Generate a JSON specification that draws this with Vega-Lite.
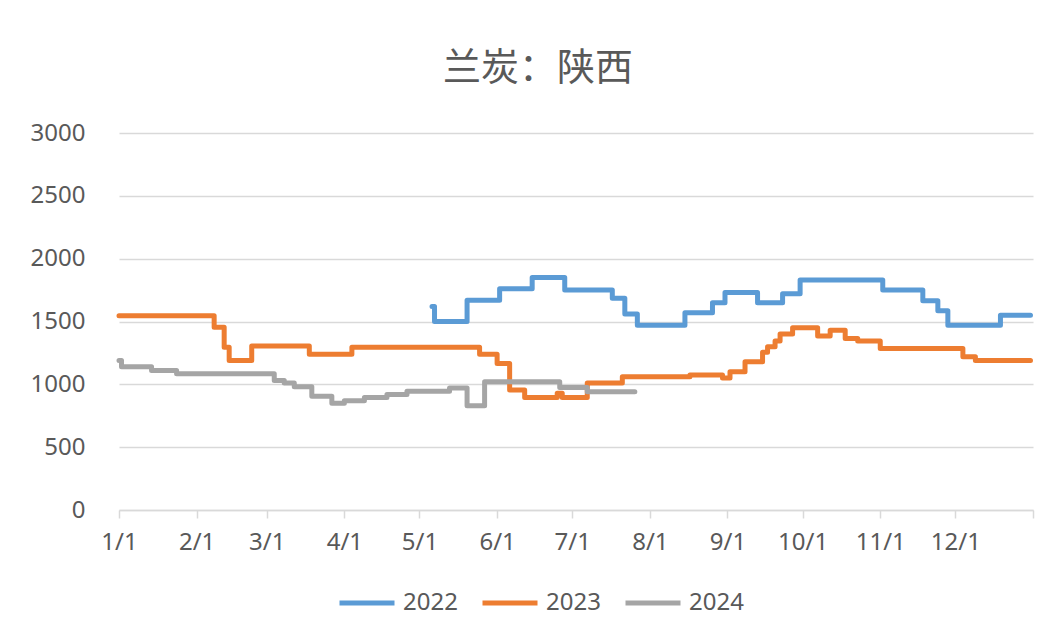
{
  "$schema": "https://vega.github.io/schema/vega-lite/v6.json",
  "width": 914,
  "height": 377,
  "autosize": {"type": "none"},
  "padding": {"left": 119, "top": 133, "right": 25, "bottom": 129},
  "background": "white",
  "title": {
    "text": "兰炭：陕西",
    "font": "Noto Sans CJK SC",
    "fontSize": 38,
    "fontWeight": "normal",
    "color": "#595959",
    "anchor": "middle",
    "frame": "group",
    "dx": -38,
    "offset": 33
  },
  "data": {
    "values": [
      {"series": "2022", "date": "2022-05-06", "value": 1620},
      {"series": "2022", "date": "2022-05-07", "value": 1500},
      {"series": "2022", "date": "2022-05-20", "value": 1670},
      {"series": "2022", "date": "2022-06-02", "value": 1760},
      {"series": "2022", "date": "2022-06-15", "value": 1850},
      {"series": "2022", "date": "2022-06-28", "value": 1750},
      {"series": "2022", "date": "2022-07-17", "value": 1685},
      {"series": "2022", "date": "2022-07-22", "value": 1560},
      {"series": "2022", "date": "2022-07-27", "value": 1470},
      {"series": "2022", "date": "2022-08-15", "value": 1570},
      {"series": "2022", "date": "2022-08-26", "value": 1650},
      {"series": "2022", "date": "2022-08-31", "value": 1730},
      {"series": "2022", "date": "2022-09-13", "value": 1650},
      {"series": "2022", "date": "2022-09-23", "value": 1720},
      {"series": "2022", "date": "2022-09-30", "value": 1830},
      {"series": "2022", "date": "2022-11-02", "value": 1750},
      {"series": "2022", "date": "2022-11-18", "value": 1665},
      {"series": "2022", "date": "2022-11-24", "value": 1585},
      {"series": "2022", "date": "2022-11-28", "value": 1470},
      {"series": "2022", "date": "2022-12-19", "value": 1550},
      {"series": "2022", "date": "2022-12-31", "value": 1550},

      {"series": "2023", "date": "2022-01-01", "value": 1545},
      {"series": "2023", "date": "2022-02-08", "value": 1455},
      {"series": "2023", "date": "2022-02-12", "value": 1295},
      {"series": "2023", "date": "2022-02-14", "value": 1190},
      {"series": "2023", "date": "2022-02-23", "value": 1305},
      {"series": "2023", "date": "2022-03-18", "value": 1240},
      {"series": "2023", "date": "2022-04-04", "value": 1295},
      {"series": "2023", "date": "2022-05-25", "value": 1240},
      {"series": "2023", "date": "2022-06-01", "value": 1165},
      {"series": "2023", "date": "2022-06-06", "value": 955},
      {"series": "2023", "date": "2022-06-12", "value": 895},
      {"series": "2023", "date": "2022-06-25", "value": 930},
      {"series": "2023", "date": "2022-06-27", "value": 895},
      {"series": "2023", "date": "2022-07-07", "value": 1010},
      {"series": "2023", "date": "2022-07-21", "value": 1060},
      {"series": "2023", "date": "2022-08-17", "value": 1075},
      {"series": "2023", "date": "2022-08-30", "value": 1050},
      {"series": "2023", "date": "2022-09-02", "value": 1100},
      {"series": "2023", "date": "2022-09-08", "value": 1180},
      {"series": "2023", "date": "2022-09-15", "value": 1255},
      {"series": "2023", "date": "2022-09-17", "value": 1300},
      {"series": "2023", "date": "2022-09-20", "value": 1345},
      {"series": "2023", "date": "2022-09-22", "value": 1400},
      {"series": "2023", "date": "2022-09-27", "value": 1450},
      {"series": "2023", "date": "2022-10-07", "value": 1385},
      {"series": "2023", "date": "2022-10-12", "value": 1430},
      {"series": "2023", "date": "2022-10-18", "value": 1365},
      {"series": "2023", "date": "2022-10-23", "value": 1345},
      {"series": "2023", "date": "2022-11-01", "value": 1285},
      {"series": "2023", "date": "2022-12-04", "value": 1220},
      {"series": "2023", "date": "2022-12-09", "value": 1190},
      {"series": "2023", "date": "2022-12-31", "value": 1190},

      {"series": "2024", "date": "2022-01-01", "value": 1190},
      {"series": "2024", "date": "2022-01-02", "value": 1140},
      {"series": "2024", "date": "2022-01-14", "value": 1110},
      {"series": "2024", "date": "2022-01-24", "value": 1085},
      {"series": "2024", "date": "2022-03-04", "value": 1030},
      {"series": "2024", "date": "2022-03-08", "value": 1010},
      {"series": "2024", "date": "2022-03-12", "value": 980},
      {"series": "2024", "date": "2022-03-19", "value": 905},
      {"series": "2024", "date": "2022-03-27", "value": 850},
      {"series": "2024", "date": "2022-04-01", "value": 870},
      {"series": "2024", "date": "2022-04-09", "value": 895},
      {"series": "2024", "date": "2022-04-18", "value": 920},
      {"series": "2024", "date": "2022-04-26", "value": 945},
      {"series": "2024", "date": "2022-05-13", "value": 970},
      {"series": "2024", "date": "2022-05-20", "value": 830},
      {"series": "2024", "date": "2022-05-27", "value": 1020},
      {"series": "2024", "date": "2022-06-26", "value": 975},
      {"series": "2024", "date": "2022-07-07", "value": 940},
      {"series": "2024", "date": "2022-07-26", "value": 940}
    ]
  },
  "mark": {
    "type": "line",
    "interpolate": "step-after",
    "strokeWidth": 5,
    "strokeJoin": "round",
    "strokeCap": "round"
  },
  "encoding": {
    "x": {
      "field": "date",
      "type": "temporal",
      "scale": {
        "type": "utc",
        "domain": [
          {"year": 2022, "month": 1, "date": 1, "utc": true},
          {"year": 2023, "month": 1, "date": 1, "utc": true}
        ]
      },
      "axis": {
        "title": null,
        "grid": false,
        "values": [
          {"year": 2022, "month": 1, "date": 1, "utc": true},
          {"year": 2022, "month": 2, "date": 1, "utc": true},
          {"year": 2022, "month": 3, "date": 1, "utc": true},
          {"year": 2022, "month": 4, "date": 1, "utc": true},
          {"year": 2022, "month": 5, "date": 1, "utc": true},
          {"year": 2022, "month": 6, "date": 1, "utc": true},
          {"year": 2022, "month": 7, "date": 1, "utc": true},
          {"year": 2022, "month": 8, "date": 1, "utc": true},
          {"year": 2022, "month": 9, "date": 1, "utc": true},
          {"year": 2022, "month": 10, "date": 1, "utc": true},
          {"year": 2022, "month": 11, "date": 1, "utc": true},
          {"year": 2022, "month": 12, "date": 1, "utc": true},
          {"year": 2023, "month": 1, "date": 1, "utc": true}
        ],
        "labelExpr": "utcyear(datum.value) > 2022 ? '' : utcFormat(datum.value, '%-m/%-d')",
        "labelFont": "Noto Sans",
        "labelFontSize": 24,
        "labelColor": "#595959",
        "labelPadding": 12,
        "labelAngle": 0,
        "labelOverlap": false,
        "labelFlush": false,
        "domainColor": "#d9d9d9",
        "domainWidth": 1.5,
        "tickColor": "#d9d9d9",
        "tickWidth": 1.5,
        "tickSize": 8
      }
    },
    "y": {
      "field": "value",
      "type": "quantitative",
      "scale": {"domain": [0, 3000], "nice": false},
      "axis": {
        "title": null,
        "values": [0, 500, 1000, 1500, 2000, 2500, 3000],
        "format": "d",
        "domain": false,
        "ticks": false,
        "tickSize": 0,
        "labelFont": "Noto Sans",
        "labelFontSize": 24,
        "labelColor": "#595959",
        "labelPadding": 34,
        "gridColor": "#d9d9d9",
        "gridWidth": 1.5
      }
    },
    "color": {
      "field": "series",
      "type": "nominal",
      "scale": {
        "domain": ["2022", "2023", "2024"],
        "range": ["#5B9BD5", "#ED7D31", "#A5A5A5"]
      },
      "legend": {
        "title": null,
        "orient": "none",
        "direction": "horizontal",
        "legendX": 218,
        "legendY": 440,
        "symbolType": "stroke",
        "symbolSize": 3025,
        "symbolStrokeWidth": 5,
        "labelFont": "Noto Sans",
        "labelFontSize": 24,
        "labelColor": "#595959",
        "labelOffset": 6,
        "columnPadding": 14
      }
    }
  },
  "config": {"view": {"stroke": null}}
}
